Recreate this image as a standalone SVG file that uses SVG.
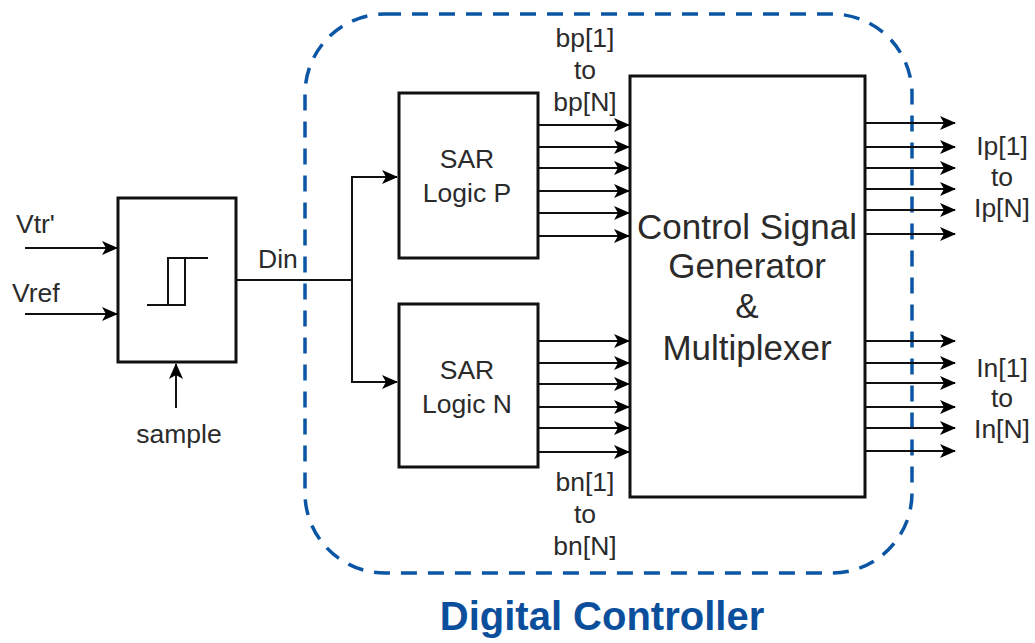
<svg xmlns="http://www.w3.org/2000/svg" width="1035" height="643" viewBox="0 0 1035 643">
  <defs>
    <marker id="arr" markerWidth="16" markerHeight="14" refX="15" refY="7" orient="auto" markerUnits="userSpaceOnUse">
      <path d="M0,0 L16,7 L0,14 L4,7 z" fill="#000"/>
    </marker>
    <style>
      .box { fill: #fff; stroke: #111; stroke-width: 3; }
      .wire { fill: none; stroke: #111; stroke-width: 2; }
      .arw { fill: none; stroke: #111; stroke-width: 2; marker-end: url(#arr); }
      .lbl { font-family: "Liberation Sans", Arial, sans-serif; font-size: 26.5px; fill: #2b2b2b; }
      .mid { text-anchor: middle; }
      .big { font-family: "Liberation Sans", Arial, sans-serif; font-size: 35px; fill: #2b2b2b; text-anchor: middle; }
      .title { font-family: "Liberation Sans", Arial, sans-serif; font-size: 40px; font-weight: bold; fill: #0b4f9c; text-anchor: middle; }
    </style>
  </defs>

  <rect width="1035" height="643" fill="#fff"/>

  <!-- controller boundary -->
  <g id="controller">
    <rect x="305" y="14" width="607" height="559" rx="80" ry="80" fill="none" stroke="#0b56a4" stroke-width="3.5" stroke-dasharray="16 11"/>
    <text class="title" x="602" y="630">Digital Controller</text>
  </g>

  <!-- connectors -->
  <g id="connectors">
    <line class="arw" x1="25" y1="248" x2="117" y2="248"/>
    <line class="arw" x1="25" y1="314" x2="117" y2="314"/>
    <line class="arw" x1="176" y1="408" x2="176" y2="364"/>
    <polyline class="wire" points="237,280 352,280"/>
    <polyline class="arw" points="352,280 352,177 397,177"/>
    <polyline class="arw" points="352,280 352,382 397,382"/>
    <!-- bp bus -->
    <line class="arw" x1="539" y1="125" x2="629" y2="125"/>
    <line class="arw" x1="539" y1="147" x2="629" y2="147"/>
    <line class="arw" x1="539" y1="168" x2="629" y2="168"/>
    <line class="arw" x1="539" y1="191" x2="629" y2="191"/>
    <line class="arw" x1="539" y1="213" x2="629" y2="213"/>
    <line class="arw" x1="539" y1="236" x2="629" y2="236"/>
    <!-- bn bus -->
    <line class="arw" x1="539" y1="341" x2="629" y2="341"/>
    <line class="arw" x1="539" y1="363" x2="629" y2="363"/>
    <line class="arw" x1="539" y1="384" x2="629" y2="384"/>
    <line class="arw" x1="539" y1="407" x2="629" y2="407"/>
    <line class="arw" x1="539" y1="428" x2="629" y2="428"/>
    <line class="arw" x1="539" y1="452" x2="629" y2="452"/>
    <!-- Ip outputs -->
    <line class="arw" x1="866" y1="123" x2="955" y2="123"/>
    <line class="arw" x1="866" y1="147" x2="955" y2="147"/>
    <line class="arw" x1="866" y1="168" x2="955" y2="168"/>
    <line class="arw" x1="866" y1="189" x2="955" y2="189"/>
    <line class="arw" x1="866" y1="210" x2="955" y2="210"/>
    <line class="arw" x1="866" y1="234" x2="955" y2="234"/>
    <!-- In outputs -->
    <line class="arw" x1="866" y1="341" x2="955" y2="341"/>
    <line class="arw" x1="866" y1="363" x2="955" y2="363"/>
    <line class="arw" x1="866" y1="383" x2="955" y2="383"/>
    <line class="arw" x1="866" y1="407" x2="955" y2="407"/>
    <line class="arw" x1="866" y1="428" x2="955" y2="428"/>
    <line class="arw" x1="866" y1="451" x2="955" y2="451"/>
  </g>

  <!-- comparator -->
  <g id="comparator">
    <rect class="box" x="118" y="198" width="118" height="164"/>
    <polyline class="wire" points="147,305 185,305 185,258" stroke-width="3"/>
    <polyline class="wire" points="208,258 168,258 168,305" stroke-width="3"/>
    <text class="lbl" x="16" y="233">Vtr'</text>
    <text class="lbl" x="12" y="302">Vref</text>
    <text class="lbl mid" x="179" y="443">sample</text>
    <text class="lbl" x="258" y="268">Din</text>
  </g>

  <!-- SAR logic P -->
  <g id="sar-p">
    <rect class="box" x="399" y="93" width="139" height="165"/>
    <text class="lbl mid" x="467" y="168">SAR</text>
    <text class="lbl mid" x="467" y="202">Logic P</text>
  </g>

  <!-- SAR logic N -->
  <g id="sar-n">
    <rect class="box" x="399" y="304" width="139" height="163"/>
    <text class="lbl mid" x="467" y="379">SAR</text>
    <text class="lbl mid" x="467" y="413">Logic N</text>
  </g>

  <!-- control signal generator -->
  <g id="control">
    <rect class="box" x="630" y="76" width="235" height="421"/>
    <text class="big" x="747" y="239">Control Signal</text>
    <text class="big" x="747" y="278">Generator</text>
    <text class="big" x="747" y="318">&amp;</text>
    <text class="big" x="747" y="360">Multiplexer</text>
  </g>

  <!-- bus labels -->
  <g id="bus-labels">
    <text class="lbl mid" x="585" y="47">bp[1]</text>
    <text class="lbl mid" x="585" y="79">to</text>
    <text class="lbl mid" x="585" y="111">bp[N]</text>
    <text class="lbl mid" x="585" y="491">bn[1]</text>
    <text class="lbl mid" x="585" y="523">to</text>
    <text class="lbl mid" x="585" y="555">bn[N]</text>
    <text class="lbl mid" x="1002" y="155">Ip[1]</text>
    <text class="lbl mid" x="1002" y="186">to</text>
    <text class="lbl mid" x="1002" y="217">Ip[N]</text>
    <text class="lbl mid" x="1002" y="377">In[1]</text>
    <text class="lbl mid" x="1002" y="407">to</text>
    <text class="lbl mid" x="1002" y="438">In[N]</text>
  </g>
</svg>
